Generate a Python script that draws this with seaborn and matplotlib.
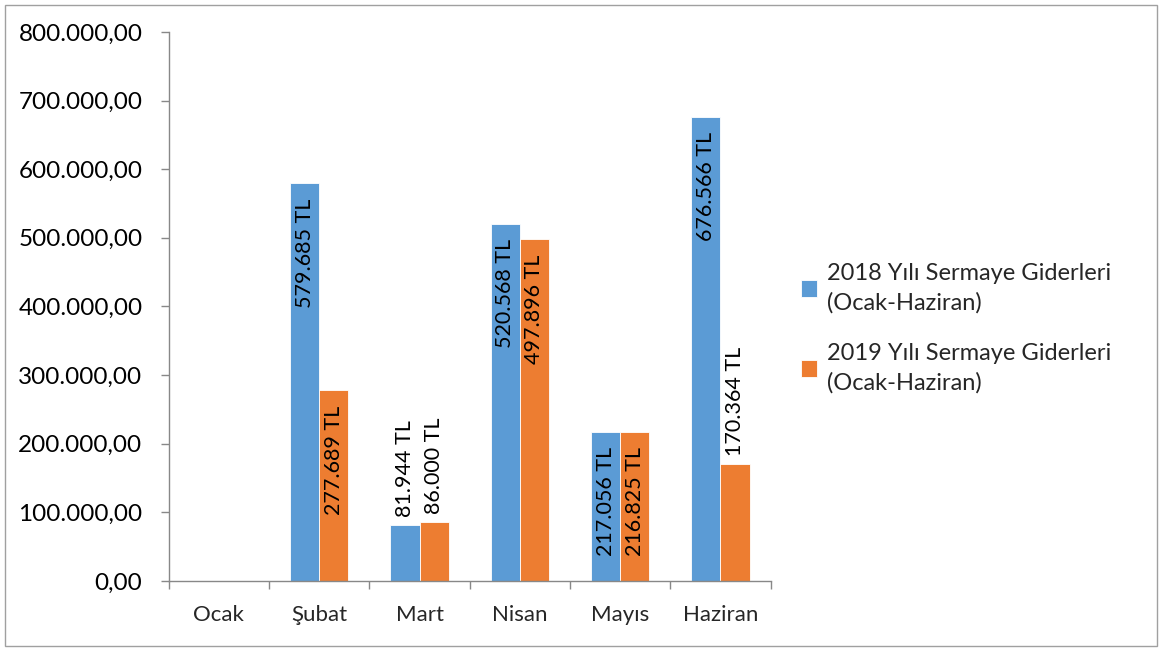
import pandas as pd
import numpy as np
import matplotlib.pyplot as plt
from matplotlib.patches import Rectangle
from matplotlib.ticker import FuncFormatter, FixedLocator
import seaborn as sns

# Data
months = ['Ocak', 'Şubat', 'Mart', 'Nisan', 'Mayıs', 'Haziran']
series_names = ['2018 Yılı Sermaye Giderleri\n(Ocak-Haziran)',
                '2019 Yılı Sermaye Giderleri\n(Ocak-Haziran)']
values_2018 = [0, 579685, 81944, 520568, 217056, 676566]
values_2019 = [0, 277689, 86000, 497896, 216825, 170364]
colors = ['#5B9BD5', '#ED7D31']

df = pd.DataFrame({
    'Ay': months * 2,
    'Seri': [series_names[0]] * len(months) + [series_names[1]] * len(months),
    'Tutar': values_2018 + values_2019,
})

sns.set_style('white')
plt.rcParams['font.family'] = ['Lato', 'DejaVu Sans']

fig = plt.figure(figsize=(11.64, 6.51), dpi=100)
ax = fig.add_axes([0.145, 0.1075, 0.517, 0.8435])

sns.barplot(data=df, x='Ay', y='Tutar', hue='Seri', order=months,
            palette=colors, saturation=1, width=0.58, gap=0, edgecolor='white',
            linewidth=0.6, ax=ax)

ax.set_ylim(0, 800000)
ax.set_xlim(-0.5, len(months) - 0.5)
ax.set_yticks(np.arange(0, 800001, 100000))


def tr_fmt(v, pos):
    return f"{v:,.2f}".replace(',', 'X').replace('.', ',').replace('X', '.')


ax.yaxis.set_major_formatter(FuncFormatter(tr_fmt))
ax.tick_params(axis='y', labelsize=17.5, colors='#888888', labelcolor='black',
               length=6, width=1, direction='out', left=True, pad=13)
ax.tick_params(axis='x', labelsize=16, length=0, pad=17)
ax.xaxis.set_minor_locator(FixedLocator(np.arange(-0.5, len(months), 1.0)))
ax.tick_params(axis='x', which='minor', length=6, width=1, colors='#888888',
               bottom=True)
ax.set_xlabel('')
ax.set_ylabel('')
for side in ['top', 'right']:
    ax.spines[side].set_visible(False)
for side in ['left', 'bottom']:
    ax.spines[side].set_color('#888888')
    ax.spines[side].set_linewidth(1)

# Value labels, rotated, inside end or outside for short bars
for container in ax.containers:
    for bar in container:
        val = bar.get_height()
        if not val:
            continue
        txt = f"{val:,.0f}".replace(',', '.') + ' TL'
        xc = bar.get_x() + bar.get_width() / 2
        if val > 190000:
            ax.text(xc, val - 22000, txt, rotation=90, ha='center', va='top',
                    fontsize=15.5, color='black')
        else:
            ax.text(xc, val + 12000, txt, rotation=90, ha='center', va='bottom',
                    fontsize=15.5, color='black')

handles, labels = ax.get_legend_handles_labels()
leg = ax.legend(handles, labels, loc='center left', bbox_to_anchor=(1.015, 0.46),
                frameon=False, fontsize=17, handlelength=0.7, handleheight=0.7,
                handletextpad=0.4, labelspacing=1.25)
for t in leg.get_texts():
    t.set_linespacing(1.45)

# Outer chart border
fig.patches.append(Rectangle((0.004, 0.008), 0.99, 0.985, transform=fig.transFigure,
                             fill=False, edgecolor='#a0a0a0', linewidth=1))

fig.savefig('out.png', dpi=100)
